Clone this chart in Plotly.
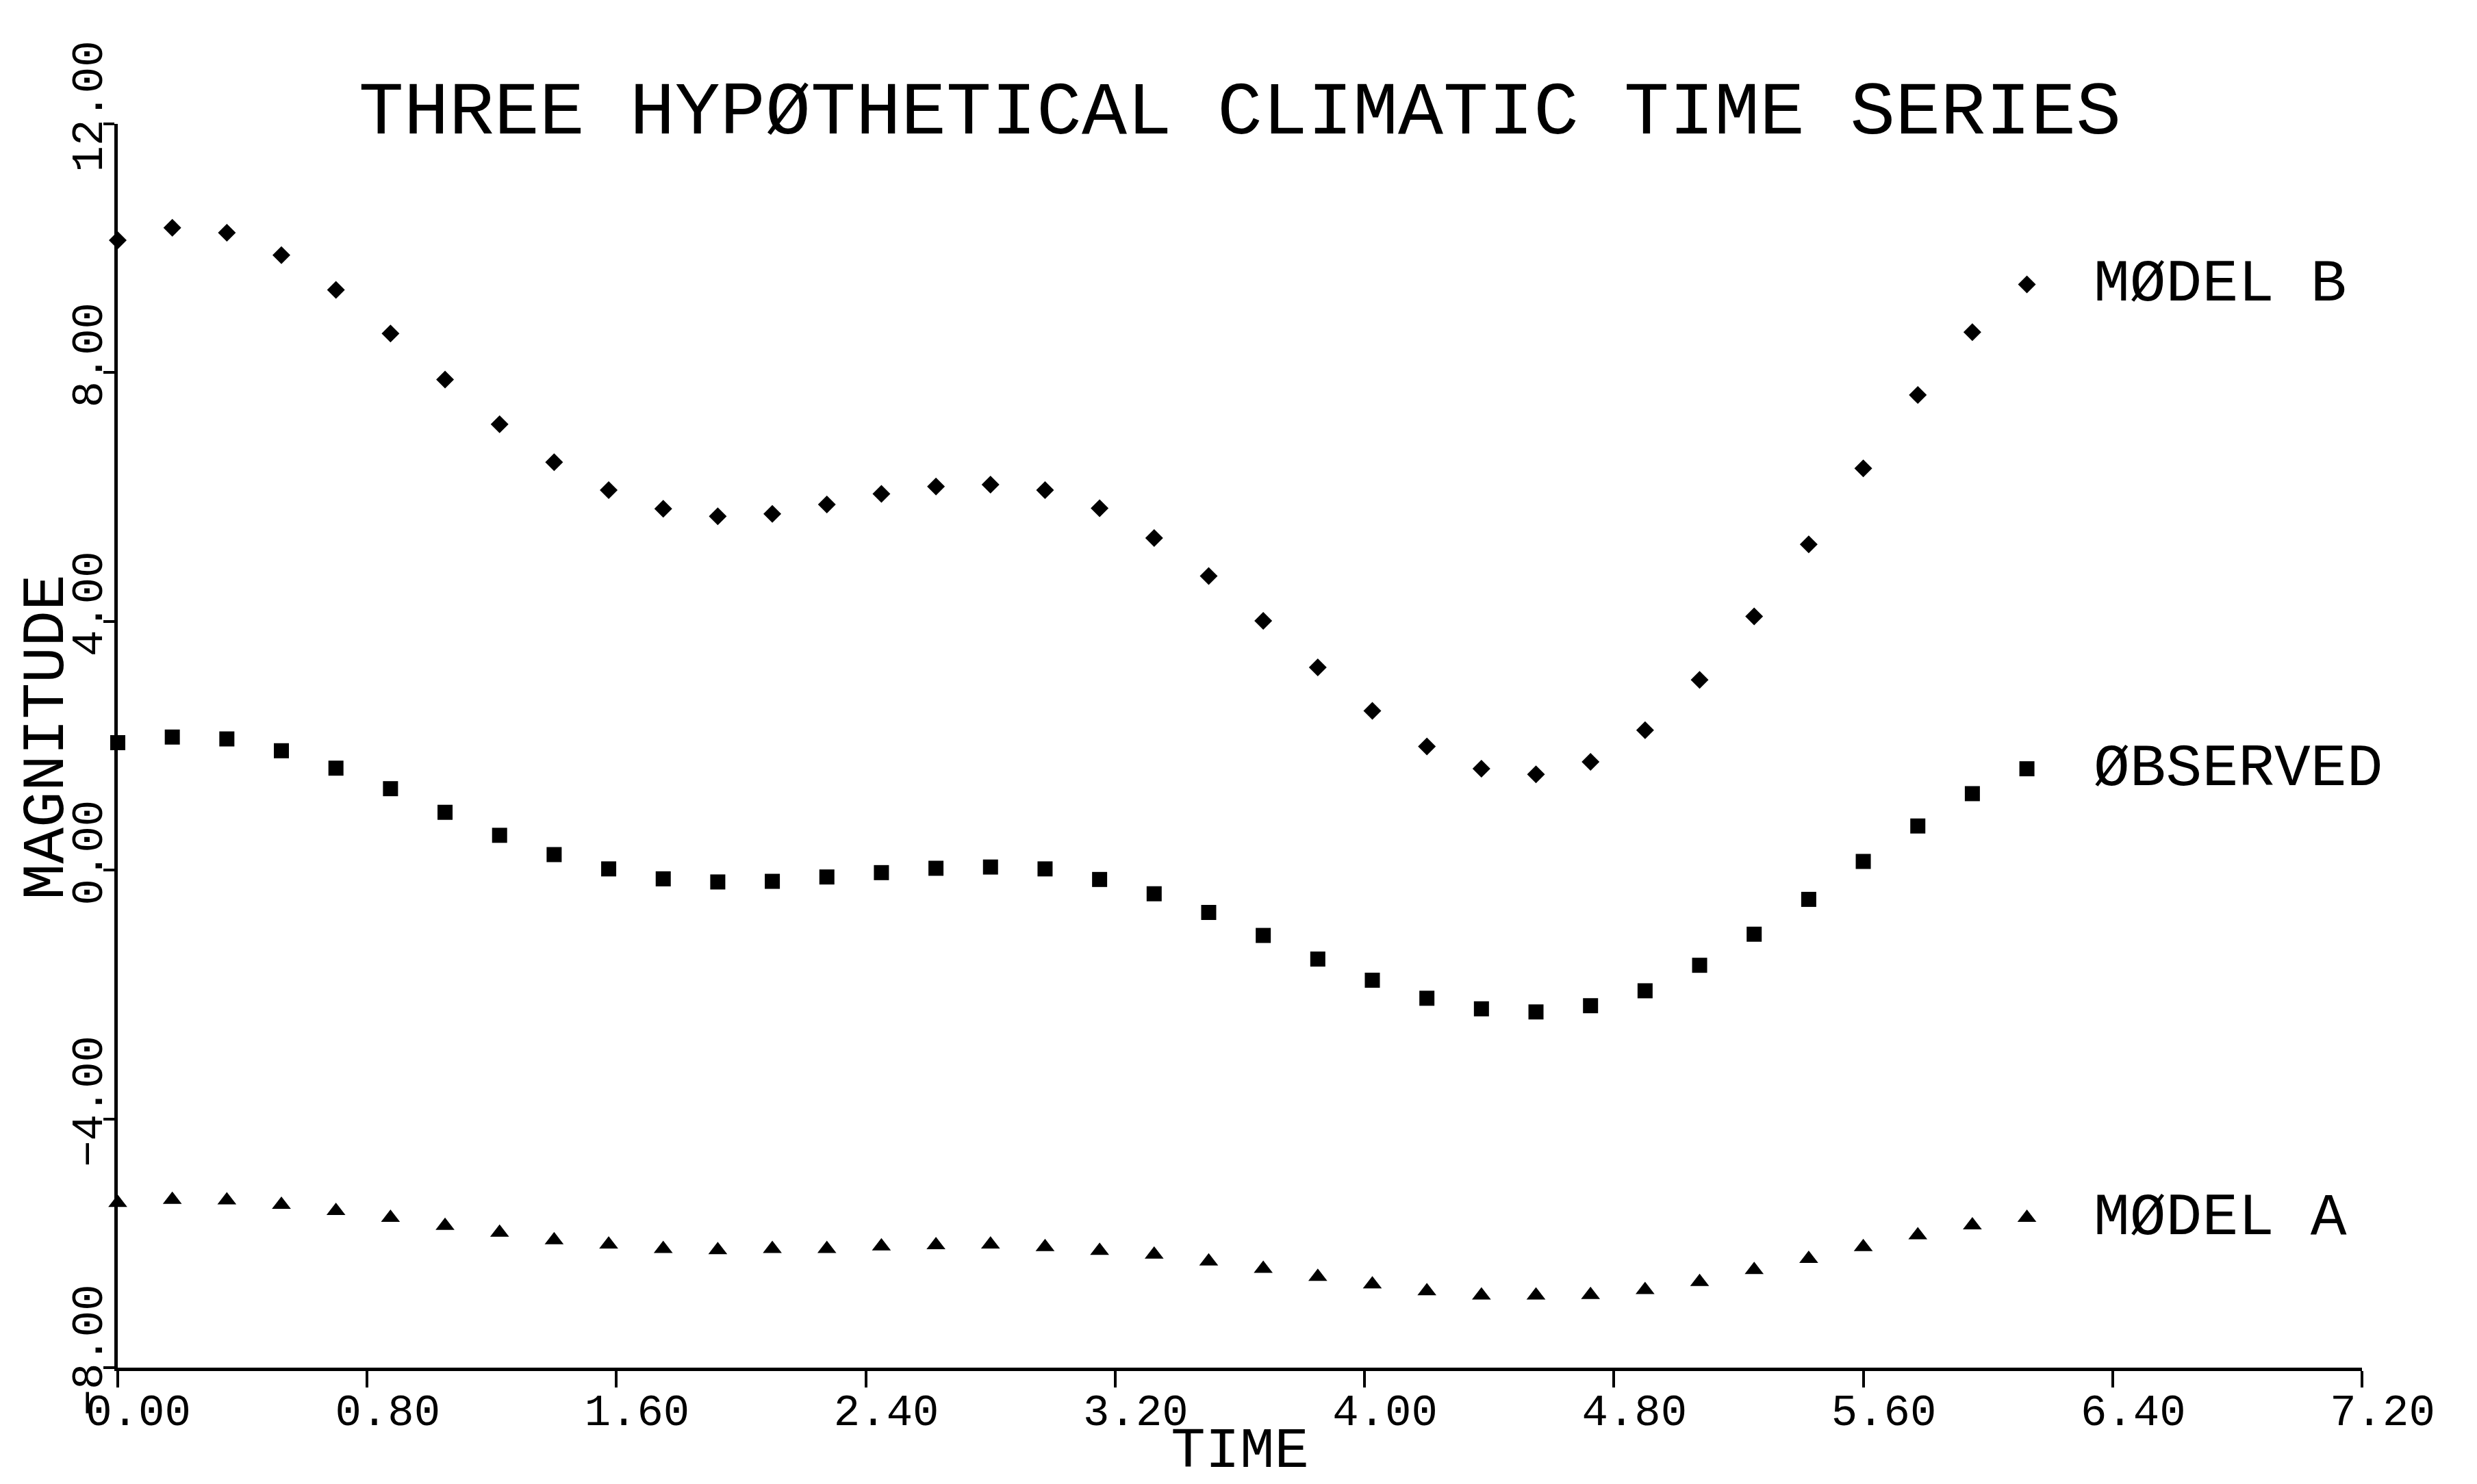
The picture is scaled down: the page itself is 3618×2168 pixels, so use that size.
import plotly.graph_objects as go

TIME = [0.000, 0.175, 0.350, 0.525, 0.700, 0.875, 1.050, 1.225, 1.400, 1.575,
        1.750, 1.925, 2.100, 2.275, 2.450, 2.625, 2.800, 2.975, 3.150, 3.325,
        3.500, 3.675, 3.850, 4.025, 4.200, 4.375, 4.550, 4.725, 4.900, 5.075,
        5.250, 5.425, 5.600, 5.775, 5.950, 6.125]

MODEL_B = [10.13, 10.33, 10.25, 9.89, 9.33, 8.63, 7.89, 7.17, 6.56, 6.11,
           5.81, 5.69, 5.73, 5.88, 6.05, 6.17, 6.20, 6.11, 5.82, 5.34,
           4.73, 4.01, 3.26, 2.56, 1.99, 1.63, 1.54, 1.74, 2.25, 3.06,
           4.08, 5.24, 6.46, 7.64, 8.65, 9.42]

OBSERVED = [2.05, 2.14, 2.11, 1.92, 1.64, 1.31, 0.93, 0.56, 0.25, 0.02,
            -0.14, -0.19, -0.18, -0.11, -0.04, 0.03, 0.05, 0.02, -0.15, -0.38,
            -0.68, -1.05, -1.43, -1.77, -2.06, -2.23, -2.28, -2.18, -1.94, -1.53,
            -1.03, -0.47, 0.14, 0.71, 1.23, 1.63]

MODEL_A = [-5.35, -5.30, -5.31, -5.38, -5.48, -5.59, -5.72, -5.83, -5.95, -6.02,
           -6.09, -6.11, -6.09, -6.09, -6.05, -6.03, -6.02, -6.06, -6.12, -6.18,
           -6.29, -6.41, -6.54, -6.66, -6.77, -6.84, -6.84, -6.83, -6.75, -6.62,
           -6.43, -6.25, -6.06, -5.87, -5.71, -5.59]

SERIES_NAMES = ["MØDEL B", "ØBSERVED", "MØDEL A"]
SERIES_SYMBOLS = ["diamond", "square", "triangle-up"]
SERIES_SIZES = [20, 22, 24]
TITLE = "THREE HYPØTHETICAL CLIMATIC TIME SERIES"
X_TITLE = "TIME"
Y_TITLE = "MAGNITUDE"

FONT = "Liberation Mono"
INK = "black"

fig = go.Figure()
for name, ys, sym, sz in zip(SERIES_NAMES, [MODEL_B, OBSERVED, MODEL_A],
                             SERIES_SYMBOLS, SERIES_SIZES):
    fig.add_trace(go.Scatter(
        x=TIME, y=ys, mode="markers", name=name,
        marker=dict(symbol=sym, size=sz, color=INK, line=dict(width=0)),
        cliponaxis=False, showlegend=False,
    ))
    fig.add_annotation(
        x=TIME[-1], y=ys[-1], xref="x", yref="y",
        text=name, showarrow=False, xanchor="left", yanchor="middle",
        xshift=95, font=dict(family=FONT, size=88, color=INK),
    )

# y-axis title, drawn as a rotated label beside the axis
fig.add_annotation(
    x=0, y=0.5, xref="paper", yref="paper",
    text=Y_TITLE, textangle=-90, showarrow=False,
    xanchor="center", yanchor="middle", xshift=-104, yshift=12,
    font=dict(family=FONT, size=88, color=INK),
)

fig.update_layout(
    width=3618, height=2168,
    margin=dict(l=172, r=168, t=181, b=170, pad=0),
    paper_bgcolor="white", plot_bgcolor="white",
    title=dict(text=TITLE, x=0.5, xref="paper", xanchor="center",
               y=1 - 156 / 2168, yref="container", yanchor="middle",
               font=dict(family=FONT, size=110, color=INK)),
    font=dict(family=FONT, color=INK),
)

fig.update_xaxes(
    range=[0, 7.2], tick0=0, dtick=0.8, tickformat=".2f",
    showgrid=False, zeroline=False, automargin=False,
    showline=True, linecolor=INK, linewidth=5,
    ticks="outside", ticklen=24, tickwidth=4, tickcolor=INK,
    tickfont=dict(family=FONT, size=64, color=INK),
    ticklabelshift=30, ticklabelstandoff=-22,
    title=dict(text=X_TITLE, font=dict(family=FONT, size=84, color=INK), standoff=10),
)
fig.update_yaxes(
    range=[-8, 12], tick0=-8, dtick=4, tickformat=".2f",
    showgrid=False, zeroline=False, automargin=False,
    showline=True, linecolor=INK, linewidth=5,
    ticks="outside", ticklen=16, tickwidth=4, tickcolor=INK,
    tickangle=-90,
    tickfont=dict(family=FONT, size=64, color=INK),
    ticklabelshift=-16, ticklabelstandoff=-24,
)

fig.write_html(
    "out.html",
    config={"displayModeBar": False},
    post_script="document.body.style.margin='0';document.body.style.overflow='hidden';",
)
